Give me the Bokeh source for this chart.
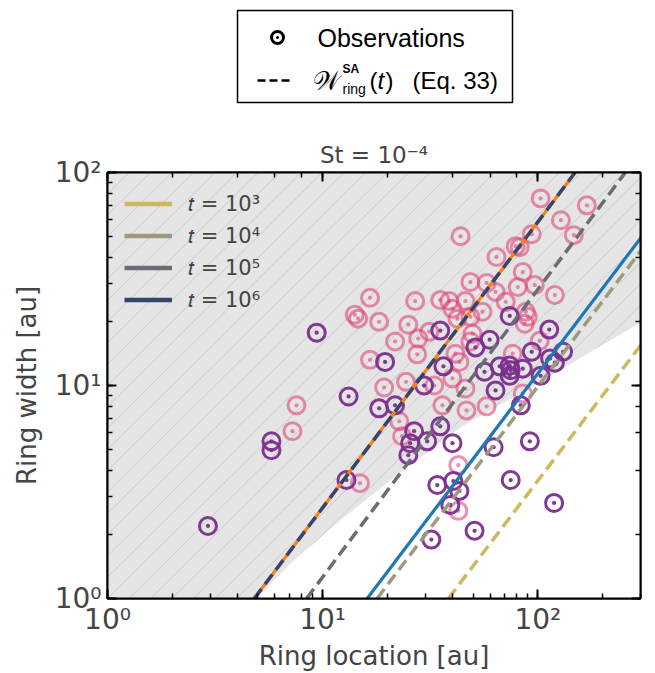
import numpy as np
from bokeh.plotting import figure
from bokeh.models import Range1d, LogAxis, LogTicker, Legend, LegendItem
from bokeh.layouts import column
from bokeh.embed import file_html
from bokeh.resources import INLINE
from bokeh.core.properties import value

# ---------------- data ----------------
# observed rings (pink sample)
pink_x = [103, 169, 128, 147, 43.7, 93.7, 78.9, 82.4, 64.3, 85.1, 48.6, 57.8, 63.6, 80.7,
          96.8, 120, 70.9, 87.9, 89.8, 55.3, 46.1, 38.8, 40.1, 42.3, 48.6, 49.7, 48.6, 86.9,
          35.2, 26.9, 16.6, 14.1, 14.6, 18.3, 25.0, 21.7, 27.8, 31.3, 16.6, 27.5, 19.3, 24.4,
          33.0, 36.0, 7.56, 7.24, 46.6, 57.8, 23.4, 22.7, 42.7, 14.9, 42.7, 85.1, 102,
          76.4, 41.4, 43.2, 46.1, 40.1]
pink_y = [75.6, 70.1, 59.7, 50.8, 50.2, 51.3, 45.1, 44.6, 40.1, 34.1, 30.6, 30.3, 27.5, 29.0,
          29.6, 26.6, 24.7, 22.2, 21.0, 22.2, 24.9, 24.9, 22.9, 20.6, 21.0, 17.5, 16.1, 19.5,
          25.2, 24.9, 25.8, 21.5, 20.6, 19.9, 19.3, 16.1, 16.6, 17.9, 13.2, 14.0, 9.79, 10.4,
          10.0, 8.07, 8.07, 6.10, 7.64, 7.98, 5.78, 6.79, 4.23, 3.48, 2.58, 9.18, 16.2,
          14.1, 14.1, 12.9, 9.68, 10.8]
# observed rings (purple sample)
purple_x = [9.38, 5.78, 5.78, 2.93, 19.5, 13.2, 18.3, 21.7, 35.2, 36.4, 29.6, 74.0, 113, 59.7,
            51.3, 93.7, 131, 114, 120, 56.5, 66.4, 74.0, 74.8, 74.0, 85.1, 103, 63.6, 83.3,
            35.2, 26.6, 25.5, 25.0, 30.6, 40.1, 62.3, 91.8, 12.9, 34.1, 40.5, 43.2, 39.2,
            74.8, 119, 50.8, 32.0]
purple_y = [17.7, 5.47, 4.97, 2.19, 12.9, 8.88, 7.81, 8.07, 18.1, 12.3, 10.0, 21.2, 18.3, 16.4,
            15.1, 14.4, 14.4, 13.4, 12.8, 11.6, 12.3, 12.4, 11.8, 11.1, 12.0, 11.1, 9.48, 8.07,
            6.43, 6.10, 5.36, 4.71, 5.47, 5.36, 5.13, 5.47, 3.60, 3.41, 3.56, 3.20, 2.75,
            3.60, 2.81, 2.08, 1.89]

# W_ring^SA(t) (Eq. 33) for t = 1e3 .. 1e6 (end points of the power laws)
sa_t3_x = [38.4, 310]; sa_t3_y = [1.0, 16.1]
sa_t4_x = [17.9, 310]; sa_t4_y = [1.0, 44.6]
sa_t5_x = [8.42, 255]; sa_t5_y = [1.0, 100]
sa_t6_x = [4.81, 149]; sa_t6_y = [1.0, 100]
# solid reference curves
blue_x = [16.1, 310]; blue_y = [1.0, 51.3]
orange_x = [4.81, 149]; orange_y = [1.0, 100]
# lower edge of the hatched (excluded) region
region_x = [4.92, 7.16, 12.3, 23.4, 44.6, 94.8, 181, 310]
region_y = [1.0, 1.47, 2.36, 3.96, 6.43, 9.89, 14.6, 20.1]

t_labels = ["𝑡 = 10³", "𝑡 = 10⁴", "𝑡 = 10⁵", "𝑡 = 10⁶"]
t_colors = ["#cdb95f", "#9e9a80", "#6a6d74", "#34466e"]
tick_labels = {1: "10⁰", 10: "10¹", 100: "10²"}
blank_labels = {1: "", 10: "", 100: ""}

PINK = "#e0457b"
PURPLE = "#7a2e8e"
FONT = "DejaVu Sans"
HATCH_STEP = 0.1   # decades between hatch lines (decorative)

# ---------------- top legend panel ----------------
# (its frame is aligned with the main plot frame, so x is mapped to page pixels 107..640)
lg = figure(width=655, height=115, x_range=Range1d(107, 640), y_range=Range1d(115, 0),
            x_axis_type=None, y_axis_type=None, toolbar_location=None,
            output_backend="svg", min_border=0)
lg.grid.visible = False
lg.outline_line_color = None
lg.quad(left=237, right=512, top=10, bottom=102, fill_color="white",
        line_color="black", line_width=1.5)
lg.scatter([277], [37], marker="circle_dot", size=12, fill_color=None,
           line_color="black", line_width=3)
lg.line([257, 291], [80, 80], line_color="black", line_width=2.5, line_dash="8 4")
lg.text([317], [37], text=["Observations"], text_font=value("Liberation Sans"),
        text_font_size="25px", text_baseline="middle", text_color="black")
lg.text([312], [80], text=["𝒲"], text_font=value("DejaVu Serif"),
        text_font_size="26px", text_baseline="middle", text_color="black")
lg.text([342], [68], text=["SA"], text_font=value("Liberation Sans"), text_font_style="bold",
        text_font_size="12px", text_baseline="middle", text_color="black")
lg.text([342], [88], text=["ring"], text_font=value("Liberation Sans"),
        text_font_size="14px", text_baseline="middle", text_color="black")
lg.text([369], [80], text=["("], text_font=value("Liberation Sans"),
        text_font_size="24px", text_baseline="middle", text_color="black")
lg.text([377], [80], text=["t"], text_font=value("Liberation Sans"), text_font_style="italic",
        text_font_size="24px", text_baseline="middle", text_color="black")
lg.text([385], [80], text=[")"], text_font=value("Liberation Sans"),
        text_font_size="24px", text_baseline="middle", text_color="black")
lg.text([412], [80], text=["(Eq. 33)"], text_font=value("Liberation Sans"),
        text_font_size="24px", text_baseline="middle", text_color="black")

# ---------------- main plot ----------------
p = figure(width=655, height=558, x_axis_type="log", y_axis_type="log",
           x_range=Range1d(1, 300), y_range=Range1d(1, 100),
           toolbar_location=None, output_backend="svg",
           min_border_left=107, min_border_right=15, min_border_top=57, min_border_bottom=72)
p.grid.visible = False
p.background_fill_color = "white"
p.outline_line_color = "black"
p.outline_line_width = 2

p.title.text = "St = 10⁻⁴"
p.title.align = "center"
p.title.text_font = FONT
p.title.text_font_size = "23px"
p.title.text_font_style = "normal"

# grey excluded region
gx = [1.0] + region_x + [region_x[-1], 1.0]
gy = [1.0] + region_y + [100.0, 100.0]
p.patch(gx, gy, fill_color="#e5e5e5", line_color=None)
# 45-degree hatch lines, then white cover for the area below the region edge
offs = np.arange(-30, 25) * HATCH_STEP
hx = [[1e-3, 1e5] for _ in offs]
hy = [[1e-3 * 10 ** c, 1e5 * 10 ** c] for c in offs]
p.multi_line(hx, hy, line_color="#cacaca", line_width=1)
wx = region_x + [region_x[-1] * 2, region_x[-1] * 2, region_x[0]]
wy = region_y + [region_y[-1], 0.5, 0.5]
p.patch(wx, wy, fill_color="white", line_color=None)

# observations
p.scatter(pink_x, pink_y, marker="circle_dot", size=17, fill_color=None,
          line_color=PINK, line_alpha=0.6, line_width=3)
p.scatter(purple_x, purple_y, marker="circle_dot", size=17, fill_color=None,
          line_color=PURPLE, line_alpha=0.95, line_width=3)

# curves
p.line(blue_x, blue_y, line_color="#1f77b4", line_width=3.2)
p.line(orange_x, orange_y, line_color="#ff7f0e", line_width=3.2)
for xs, ys, c in [(sa_t3_x, sa_t3_y, t_colors[0]), (sa_t4_x, sa_t4_y, t_colors[1]),
                  (sa_t5_x, sa_t5_y, t_colors[2]), (sa_t6_x, sa_t6_y, t_colors[3])]:
    p.line(xs, ys, line_color=c, line_width=3.5, line_dash="12 6")

# inner legend (solid lines)
items = []
for lab, c in zip(t_labels, t_colors):
    r = p.line(x=[0.5], y=[0.5], line_color=c, line_width=4.5)
    items.append(LegendItem(label=lab, renderers=[r]))
leg = Legend(items=items, location="top_left", background_fill_alpha=0,
             border_line_alpha=0, label_text_font=FONT, label_text_font_size="21px",
             glyph_width=48, glyph_height=29, label_height=29, spacing=3,
             label_standoff=16, padding=14, margin=3)
p.add_layout(leg)

# axes styling
for ax in [p.xaxis[0], p.yaxis[0]]:
    ax.major_label_overrides = tick_labels
    ax.major_label_text_font = FONT
    ax.major_label_text_font_size = "28px"
    ax.axis_label_text_font = FONT
    ax.axis_label_text_font_size = "26px"
    ax.axis_label_text_font_style = "normal"
    ax.axis_line_width = 2
    ax.major_tick_in = 9
    ax.major_tick_out = 0
    ax.minor_tick_in = 5
    ax.minor_tick_out = 0
    ax.major_tick_line_width = 2
    ax.minor_tick_line_width = 1.5
p.xaxis.axis_label = "Ring location [au]"
p.yaxis.axis_label = "Ring width [au]"
p.xaxis.major_label_standoff = 4
p.xaxis.axis_label_standoff = 2
p.yaxis.major_label_standoff = 6
p.yaxis.axis_label_standoff = 10

# mirrored ticks on top and right
for side in ["above", "right"]:
    ax = LogAxis(ticker=LogTicker(), major_label_overrides=blank_labels, axis_line_width=2,
                 major_tick_in=9, major_tick_out=0, minor_tick_in=5, minor_tick_out=0,
                 major_tick_line_width=2, minor_tick_line_width=1.5, major_label_standoff=0)
    p.add_layout(ax, side)

layout = column(lg, p, spacing=0)
open("out.html", "w").write(file_html(layout, INLINE))
